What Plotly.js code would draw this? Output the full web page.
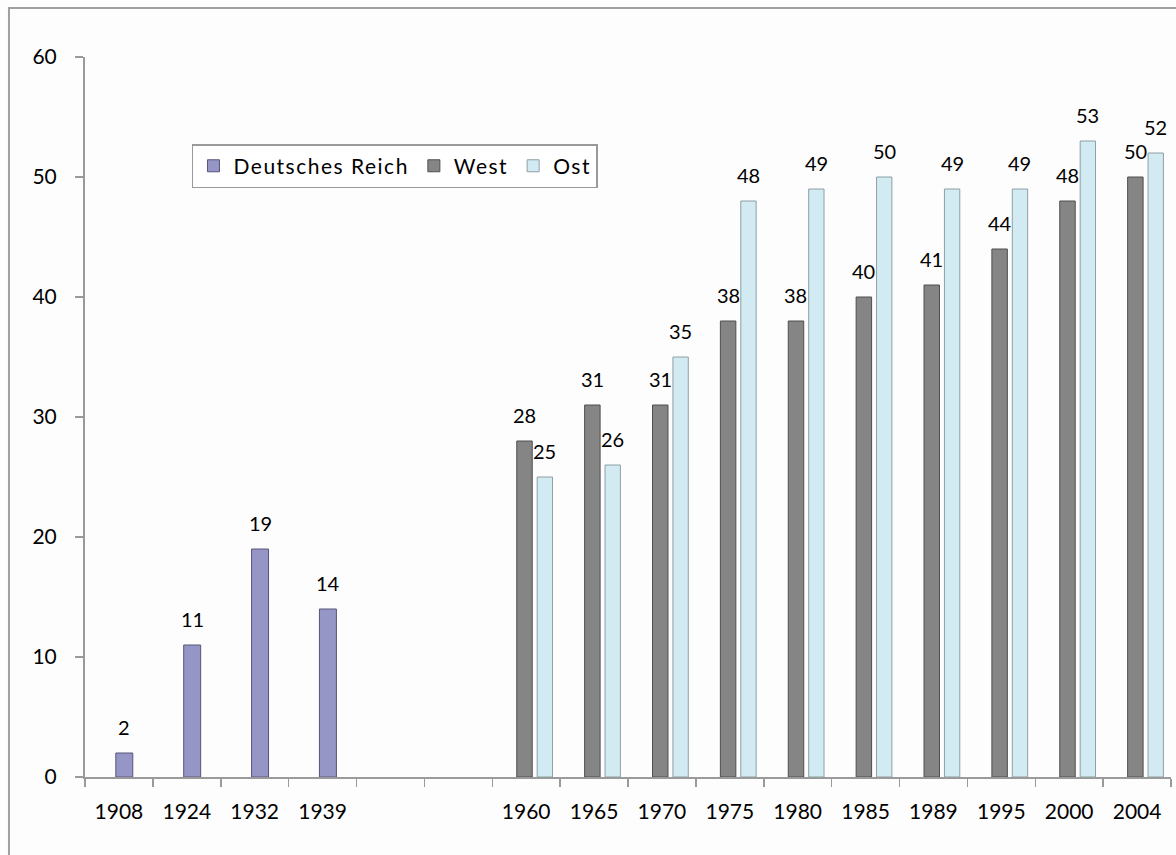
<!DOCTYPE html>
<html>
<head>
<meta charset="utf-8">
<script src="https://cdn.plot.ly/plotly-3.0.1.min.js"></script>
<style>
  html, body { margin: 0; padding: 0; background: #fdfdfd; }
  #chart { width: 1176px; height: 855px; }
  .legendtext { letter-spacing: 1.5px; }
</style>
</head>
<body>
<div id="chart"></div>
<script>
// ---- data ----
const categories = ['1908','1924','1932','1939','gap1','gap2','1960','1965','1970','1975','1980','1985','1989','1995','2000','2004'];
const tickLabels = ['1908','1924','1932','1939','','','1960','1965','1970','1975','1980','1985','1989','1995','2000','2004'];

const reichYears = ['1908','1924','1932','1939'];
const reichValues = [2, 11, 19, 14];

const splitYears = ['1960','1965','1970','1975','1980','1985','1989','1995','2000','2004'];
const westValues = [28, 31, 31, 38, 38, 40, 41, 44, 48, 50];
const ostValues  = [25, 26, 35, 48, 49, 50, 49, 49, 53, 52];

// ---- styling ----
const FONT = 'Lato, "Open Sans", sans-serif';
const series = [
  {name: 'Deutsches Reich', x: reichYears, y: reichValues, fill: '#9595c6', line: '#56567a', offset: -0.046, width: 0.25},
  {name: 'West', x: splitYears, y: westValues, fill: '#858585', line: '#4f4f4f', offset: -0.139, width: 0.228},
  {name: 'Ost',  x: splitYears, y: ostValues,  fill: '#d2eaf1', line: '#8e9fa5', offset: 0.162, width: 0.226}
];

const traces = series.map(s => ({
  type: 'bar',
  name: s.name,
  x: s.x,
  y: s.y,
  offset: s.offset,
  width: s.width,
  marker: {color: s.fill, line: {color: s.line, width: 1}},
  hoverinfo: 'x+y'
}));

const annotations = [];
series.forEach(s => {
  s.x.forEach((cat, i) => {
    annotations.push({
      x: categories.indexOf(cat) + s.offset + s.width / 2,
      y: s.y[i],
      xref: 'x', yref: 'y',
      text: String(s.y[i]),
      showarrow: false,
      xanchor: 'center', yanchor: 'bottom',
      yshift: 12,
      font: {family: FONT, size: 20, color: '#000'}
    });
  });
});

const layout = {
  width: 1176,
  height: 855,
  paper_bgcolor: '#fdfdfd',
  plot_bgcolor: '#fdfdfd',
  margin: {l: 85, r: 5, t: 57, b: 78},
  barmode: 'overlay',
  showlegend: true,
  legend: {
    orientation: 'h',
    x: 0.0985, y: 0.879, xanchor: 'left', yanchor: 'top',
    bgcolor: '#ffffff',
    bordercolor: '#9a9a9a', borderwidth: 1.5,
    font: {family: FONT, size: 21, color: '#000'},
    traceorder: 'normal',
    itemclick: false
  },
  xaxis: {
    type: 'category',
    categoryorder: 'array',
    categoryarray: categories,
    tickmode: 'array',
    tickvals: categories,
    ticktext: tickLabels,
    range: [-0.5, categories.length - 0.5],
    tickson: 'boundaries',
    ticks: 'outside', ticklen: 8, tickcolor: '#9a9a9a', tickwidth: 1.5,
    showline: true, linecolor: '#9a9a9a', linewidth: 2,
    showgrid: false, zeroline: false,
    ticklabelstandoff: 15,
    tickfont: {family: FONT, size: 21, color: '#000'}
  },
  yaxis: {
    range: [0, 60],
    dtick: 10,
    ticks: 'outside', ticklen: 8, tickcolor: '#9a9a9a', tickwidth: 1.5,
    showline: true, linecolor: '#9a9a9a', linewidth: 2,
    showgrid: false, zeroline: false,
    ticklabelstandoff: 14,
    tickfont: {family: FONT, size: 21, color: '#000'}
  },
  annotations: annotations,
  shapes: [{
    type: 'rect', xref: 'paper', yref: 'paper',
    x0: -0.07, x1: 1.02, y0: -0.15, y1: 1.068,
    line: {color: '#a0a0a0', width: 2},
    fillcolor: 'rgba(0,0,0,0)',
    layer: 'below'
  }]
};

Plotly.newPlot('chart', traces, layout, {displayModeBar: false, staticPlot: true});
</script>
</body>
</html>
